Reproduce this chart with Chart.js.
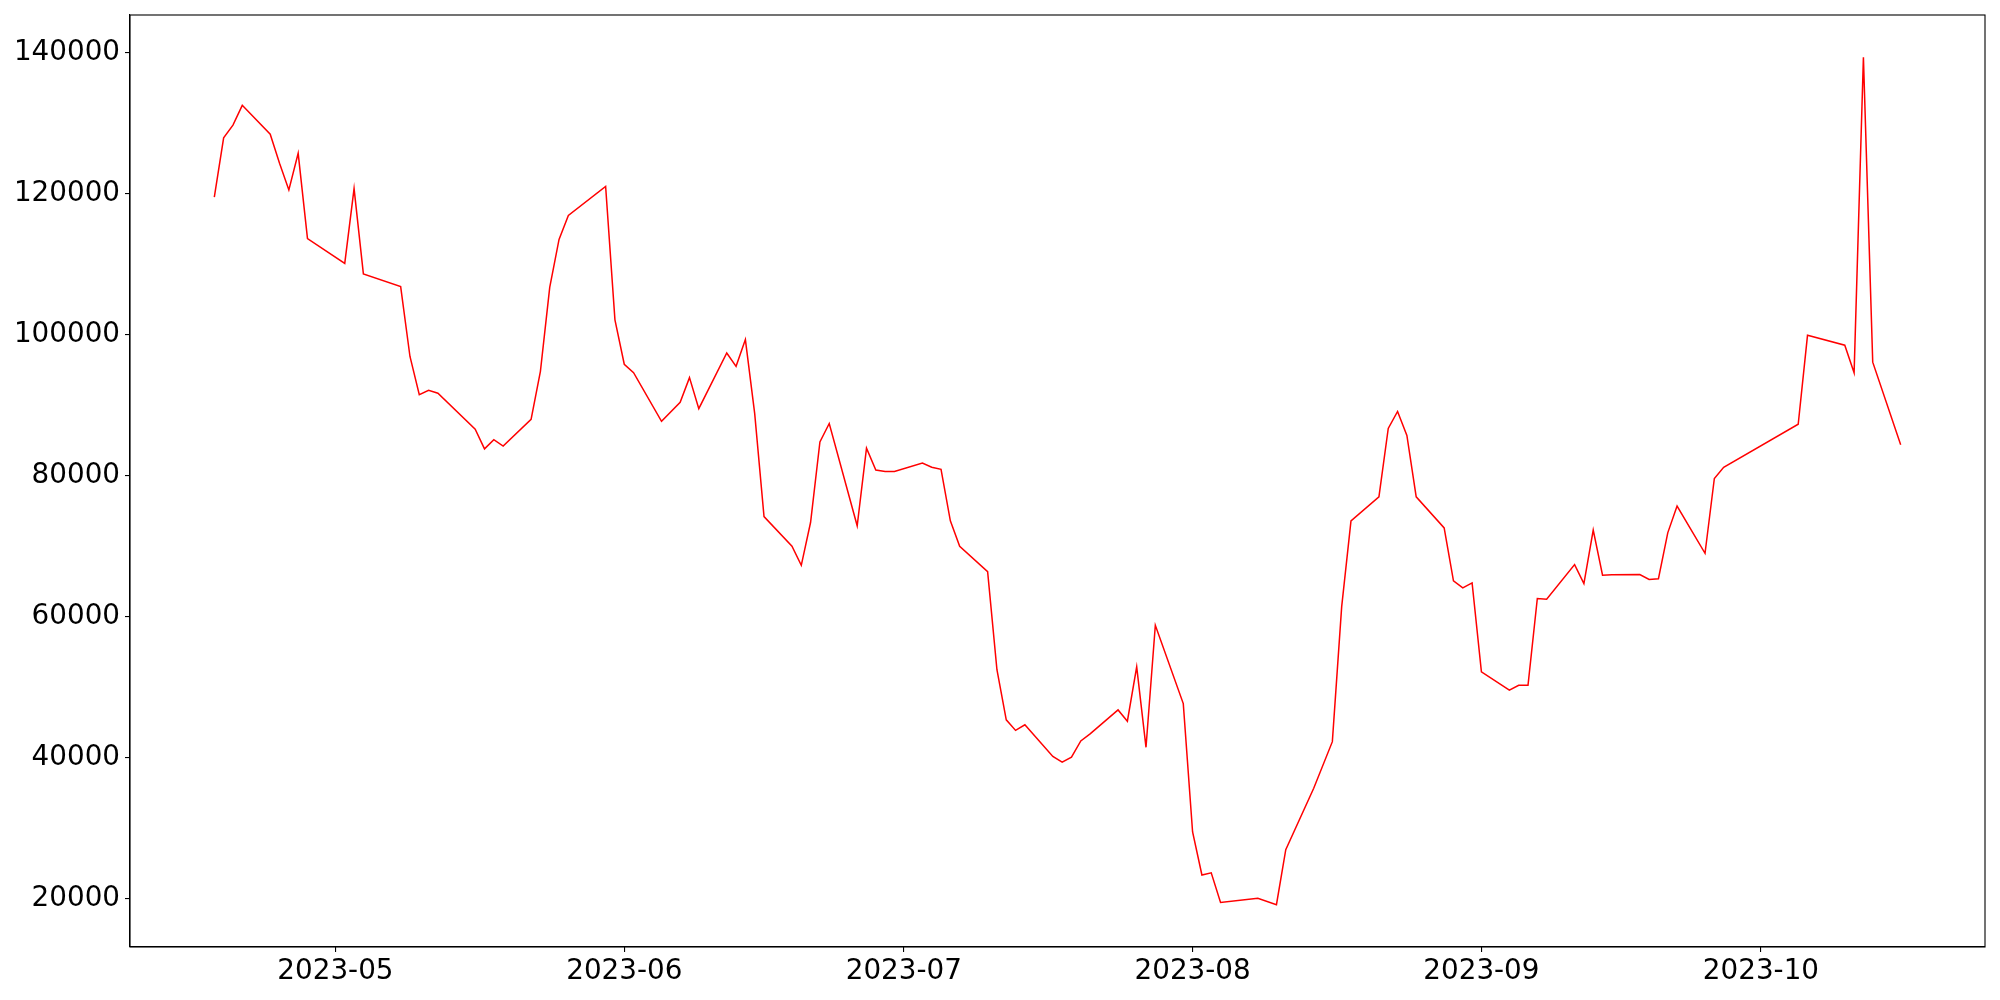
<!DOCTYPE html>
<html>
<head>
<meta charset="utf-8">
<script src="https://cdn.jsdelivr.net/npm/chart.js@4/dist/chart.umd.min.js"></script>
<style>
    html, body { margin: 0; padding: 0; background: #fff; }
    canvas { display: block; }
</style>
</head>
<body>
<canvas id="lineChart" width="2000" height="1000"></canvas>
<script>
// Trading dates and values
const dates = [
    '2023-04-18', '2023-04-19', '2023-04-20', '2023-04-21', '2023-04-24', '2023-04-25', '2023-04-26', '2023-04-27', '2023-04-28',
    '2023-05-02', '2023-05-03', '2023-05-04', '2023-05-08', '2023-05-09', '2023-05-10', '2023-05-11', '2023-05-12',
    '2023-05-16', '2023-05-17', '2023-05-18', '2023-05-19', '2023-05-22', '2023-05-23', '2023-05-24', '2023-05-25', '2023-05-26',
    '2023-05-30', '2023-05-31', '2023-06-01', '2023-06-02', '2023-06-05', '2023-06-07', '2023-06-08', '2023-06-09',
    '2023-06-12', '2023-06-13', '2023-06-14', '2023-06-15', '2023-06-16', '2023-06-19', '2023-06-20', '2023-06-21', '2023-06-22', '2023-06-23',
    '2023-06-26', '2023-06-27', '2023-06-28', '2023-06-29', '2023-06-30', '2023-07-03', '2023-07-04', '2023-07-05', '2023-07-06', '2023-07-07',
    '2023-07-10', '2023-07-11', '2023-07-12', '2023-07-13', '2023-07-14', '2023-07-17', '2023-07-18', '2023-07-19', '2023-07-20', '2023-07-21',
    '2023-07-24', '2023-07-25', '2023-07-26', '2023-07-27', '2023-07-28', '2023-07-31', '2023-08-01', '2023-08-02', '2023-08-03', '2023-08-04',
    '2023-08-08', '2023-08-10', '2023-08-11', '2023-08-14', '2023-08-16', '2023-08-17', '2023-08-18',
    '2023-08-21', '2023-08-22', '2023-08-23', '2023-08-24', '2023-08-25', '2023-08-28', '2023-08-29', '2023-08-30', '2023-08-31', '2023-09-01',
    '2023-09-04', '2023-09-05', '2023-09-06', '2023-09-07', '2023-09-08', '2023-09-11', '2023-09-12', '2023-09-13', '2023-09-14', '2023-09-15',
    '2023-09-18', '2023-09-19', '2023-09-20', '2023-09-21', '2023-09-22', '2023-09-25', '2023-09-26', '2023-09-27',
    '2023-10-05', '2023-10-06', '2023-10-10', '2023-10-11', '2023-10-12', '2023-10-13', '2023-10-16'
];

const values = [
    119500, 127900, 129700, 132500, 128400, 124300, 120500, 125700, 113600,
    110100, 120700, 108600, 106800, 96900, 91500, 92100, 91700,
    86600, 83800, 85100, 84200, 88000, 94800, 106700, 113500, 116900,
    121000, 102100, 95800, 94600, 87700, 90400, 93900, 89500,
    97400, 95500, 99300, 88800, 74200, 70000, 67300, 73400, 84800, 87400,
    72900, 83900, 80800, 80600, 80600, 81800, 81200, 80900, 73600, 70000,
    66400, 52500, 45400, 43900, 44700, 40200, 39400, 40100, 42400, 43400,
    46800, 45200, 52900, 41500, 58800, 47700, 29500, 23400, 23700, 19500,
    20100, 19200, 27000, 35700, 42300, 61400, 73600,
    77000, 86700, 89100, 85700, 77000, 72600, 65100, 64100, 64800, 52200,
    49600, 50300, 50300, 62600, 62500, 67400, 64700, 72300, 65900, 65950,
    66000, 65300, 65400, 71900, 75700, 69000, 79600, 81200,
    87300, 99900, 98500, 94600, 139300, 96100, 84400
];

const xTickLabels = ['2023-05', '2023-06', '2023-07', '2023-08', '2023-09', '2023-10'];
const yTickValues = [20000, 40000, 60000, 80000, 100000, 120000, 140000];

const DAY = 86400000;
const toDay = (s) => Date.parse(s + 'T00:00:00Z') / DAY;
const dayToMonth = (d) => new Date(d * DAY).toISOString().slice(0, 7);

const points = dates.map((d, i) => ({ x: toDay(d), y: values[i] }));

// matplotlib-style 5% margins
const xFirst = points[0].x, xLast = points[points.length - 1].x;
const xPad = (xLast - xFirst) * 0.05;
const yLow = Math.min(...values), yHigh = Math.max(...values);
const yPad = (yHigh - yLow) * 0.05;

const tickFont = { family: 'DejaVu Sans', size: 27.8 };

const framePlugin = {
    id: 'frame',
    afterDraw(chart) {
        const { ctx, chartArea: a } = chart;
        ctx.save();
        ctx.strokeStyle = '#000';
        ctx.lineWidth = 1.1;
        ctx.strokeRect(a.left, a.top, a.right - a.left, a.bottom - a.top);
        ctx.restore();
    }
};

const ctx = document.getElementById('lineChart').getContext('2d');
new Chart(ctx, {
    type: 'line',
    data: {
        datasets: [{
            data: points,
            borderColor: '#ff0000',
            borderWidth: 1.5,
            pointRadius: 0,
            tension: 0,
            fill: false
        }]
    },
    options: {
        responsive: false,
        animation: false,
        devicePixelRatio: 1,
        layout: { padding: { top: 15, right: 15, left: 0, bottom: 0 } },
        plugins: {
            legend: { display: false },
            tooltip: { enabled: false }
        },
        scales: {
            x: {
                type: 'linear',
                min: xFirst - xPad,
                max: xLast + xPad,
                afterBuildTicks: (scale) => {
                    scale.ticks = xTickLabels.map(m => ({ value: toDay(m + '-01') }));
                },
                afterFit: (scale) => {
                    scale.height = 53;
                    scale.paddingLeft = 0;
                    scale.paddingRight = 0;
                },
                grid: { drawOnChartArea: false, drawTicks: true, tickLength: 5, color: '#000', lineWidth: 1.1 },
                border: { display: true, color: '#000', width: 1.1 },
                ticks: {
                    color: '#000',
                    font: tickFont,
                    padding: 3,
                    maxRotation: 0,
                    autoSkip: false,
                    callback: (v) => dayToMonth(v)
                }
            },
            y: {
                type: 'linear',
                min: yLow - yPad,
                max: yHigh + yPad,
                afterBuildTicks: (scale) => {
                    scale.ticks = yTickValues.map(v => ({ value: v }));
                },
                afterFit: (scale) => {
                    scale.width = 130;
                    scale.paddingTop = 0;
                    scale.paddingBottom = 0;
                },
                grid: { drawOnChartArea: false, drawTicks: true, tickLength: 5, color: '#000', lineWidth: 1.1 },
                border: { display: true, color: '#000', width: 1.1 },
                ticks: {
                    color: '#000',
                    font: tickFont,
                    padding: 5,
                    autoSkip: false,
                    callback: (v) => String(v)
                }
            }
        }
    },
    plugins: [framePlugin]
});
</script>
</body>
</html>
